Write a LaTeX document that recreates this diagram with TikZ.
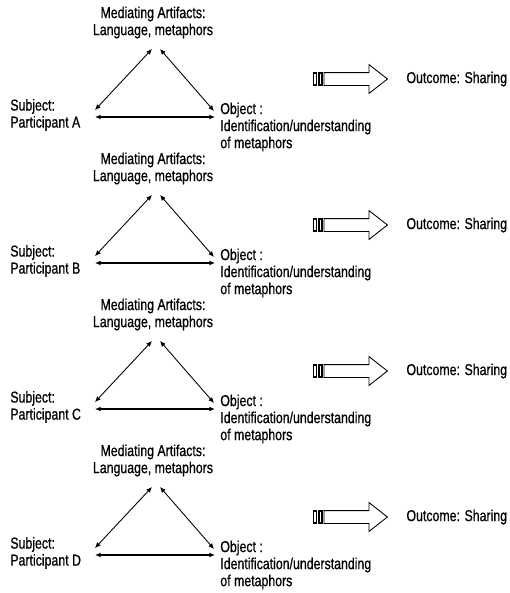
\documentclass[tikz,border=0pt]{standalone}
\usepackage{fontspec}
\setmainfont[FakeStretch=0.78,FakeBold=0.7]{Liberation Sans}
\usepackage{tikz}
\usetikzlibrary{positioning,arrows.meta,shapes.arrows}

\begin{document}
\begin{tikzpicture}[every node/.style={font=\fontsize{9.0}{9.7}\selectfont},
  txt/.style={inner sep=0pt, align=left},
  link/.style={{Latex[length=3.2pt,width=2.8pt]}-{Latex[length=3.2pt,width=2.8pt]},
               line width=0.5pt},
  outarrow/.style={single arrow, draw, line width=0.5pt, inner sep=0pt,
                   inner ysep=0.12cm, minimum height=1.27cm,
                   single arrow head extend=0.16cm, single arrow tip angle=76},
  stripe/.style={draw, line width=0.6pt, inner sep=0pt,
                 minimum width=0.06cm, minimum height=0.24cm}]

  \useasboundingbox (0,0) rectangle (10.18,-11.86);

  % Participant A
  \node[txt, align=center] (medA) at (3.06,-0.45) {Mediating Artifacts:\\Language, metaphors};
  \node[txt, anchor=west] (subjA) at (0.20,-2.30) {Subject:\\Participant A};
  \node[txt, anchor=west] (objA) at (4.40,-2.54) {Object :\\Identification/understanding\\of metaphors};
  \coordinate (tlA) at (3.04,-0.98);
  \coordinate (trA) at (3.20,-0.98);
  \coordinate (blA) at (1.90,-2.20);
  \coordinate (brA) at (4.28,-2.22);
  \coordinate (hlA) at (1.90,-2.34);
  \coordinate (hrA) at (4.30,-2.34);
  \draw[link] (blA) -- (tlA);
  \draw[link] (trA) -- (brA);
  \draw[link, line width=0.8pt] (hlA) -- (hrA);
  \node[outarrow, anchor=tail] (arA) at (6.47,-1.58) {};
  \node[stripe, left=0.02cm of arA.tail] (s1A) {};
  \node[stripe, left=0.02cm of s1A] (s2A) {};
  \node[txt, right=0.36cm of arA] (outA) {Outcome: Sharing};

  % Participant B
  \node[txt, align=center] (medB) at (3.06,-3.37) {Mediating Artifacts:\\Language, metaphors};
  \node[txt, anchor=west] (subjB) at (0.20,-5.22) {Subject:\\Participant B};
  \node[txt, anchor=west] (objB) at (4.40,-5.46) {Object :\\Identification/understanding\\of metaphors};
  \coordinate (tlB) at (3.04,-3.90);
  \coordinate (trB) at (3.20,-3.90);
  \coordinate (blB) at (1.90,-5.12);
  \coordinate (brB) at (4.28,-5.14);
  \coordinate (hlB) at (1.90,-5.26);
  \coordinate (hrB) at (4.30,-5.26);
  \draw[link] (blB) -- (tlB);
  \draw[link] (trB) -- (brB);
  \draw[link, line width=0.8pt] (hlB) -- (hrB);
  \node[outarrow, anchor=tail] (arB) at (6.47,-4.50) {};
  \node[stripe, left=0.02cm of arB.tail] (s1B) {};
  \node[stripe, left=0.02cm of s1B] (s2B) {};
  \node[txt, right=0.36cm of arB] (outB) {Outcome: Sharing};

  % Participant C
  \node[txt, align=center] (medC) at (3.06,-6.29) {Mediating Artifacts:\\Language, metaphors};
  \node[txt, anchor=west] (subjC) at (0.20,-8.14) {Subject:\\Participant C};
  \node[txt, anchor=west] (objC) at (4.40,-8.38) {Object :\\Identification/understanding\\of metaphors};
  \coordinate (tlC) at (3.04,-6.82);
  \coordinate (trC) at (3.20,-6.82);
  \coordinate (blC) at (1.90,-8.04);
  \coordinate (brC) at (4.28,-8.06);
  \coordinate (hlC) at (1.90,-8.18);
  \coordinate (hrC) at (4.30,-8.18);
  \draw[link] (blC) -- (tlC);
  \draw[link] (trC) -- (brC);
  \draw[link, line width=0.8pt] (hlC) -- (hrC);
  \node[outarrow, anchor=tail] (arC) at (6.47,-7.42) {};
  \node[stripe, left=0.02cm of arC.tail] (s1C) {};
  \node[stripe, left=0.02cm of s1C] (s2C) {};
  \node[txt, right=0.36cm of arC] (outC) {Outcome: Sharing};

  % Participant D
  \node[txt, align=center] (medD) at (3.06,-9.21) {Mediating Artifacts:\\Language, metaphors};
  \node[txt, anchor=west] (subjD) at (0.20,-11.06) {Subject:\\Participant D};
  \node[txt, anchor=west] (objD) at (4.40,-11.30) {Object :\\Identification/understanding\\of metaphors};
  \coordinate (tlD) at (3.04,-9.74);
  \coordinate (trD) at (3.20,-9.74);
  \coordinate (blD) at (1.90,-10.96);
  \coordinate (brD) at (4.28,-10.98);
  \coordinate (hlD) at (1.90,-11.10);
  \coordinate (hrD) at (4.30,-11.10);
  \draw[link] (blD) -- (tlD);
  \draw[link] (trD) -- (brD);
  \draw[link, line width=0.8pt] (hlD) -- (hrD);
  \node[outarrow, anchor=tail] (arD) at (6.47,-10.34) {};
  \node[stripe, left=0.02cm of arD.tail] (s1D) {};
  \node[stripe, left=0.02cm of s1D] (s2D) {};
  \node[txt, right=0.36cm of arD] (outD) {Outcome: Sharing};
\end{tikzpicture}
\end{document}
